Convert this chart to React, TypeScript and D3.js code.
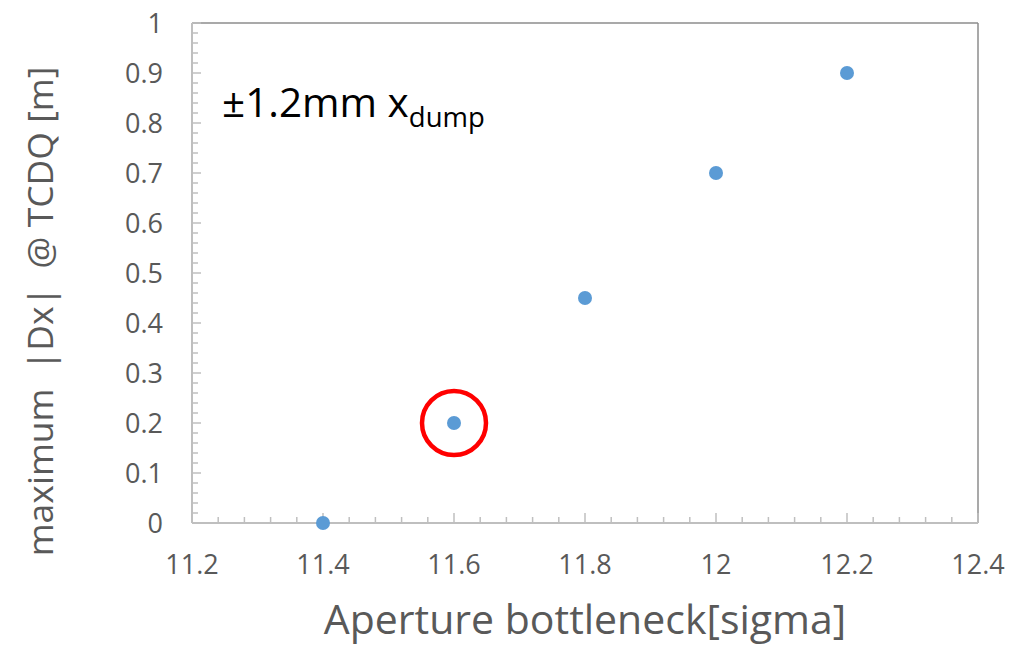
import React from "react";
import * as d3 from "d3";

const apertureSigma = [11.4, 11.6, 11.8, 12.0, 12.2];
const maxDx = [0, 0.2, 0.45, 0.7, 0.9];
const xTicks = [11.2, 11.4, 11.6, 11.8, 12, 12.2, 12.4];
const yTicks = [0, 0.1, 0.2, 0.3, 0.4, 0.5, 0.6, 0.7, 0.8, 0.9, 1];
const highlighted = [11.6];

const W = 1010, H = 646;
const M = { left: 192, right: 978, top: 23, bottom: 523 };
const FONT = "'Open Sans', sans-serif";

export default function App() {
  const x = d3.scaleLinear().domain([11.2, 12.4]).range([M.left, M.right]);
  const y = d3.scaleLinear().domain([0, 1]).range([M.bottom, M.top]);
  const xMinor = d3.range(0, 31).map((i) => 11.2 + i * 0.04);
  const yMinor = d3.range(0, 51).map((i) => i * 0.02);
  const axisColor = "#bfbfbf";
  const labelColor = "#595959";
  return (
    <svg width={W} height={H} style={{ position: "absolute", left: 0, top: 0 }}>
      <rect x={0} y={0} width={W} height={H} fill="#fff" />
      <line x1={M.left} x2={M.right} y1={M.top} y2={M.top} stroke="#8c8c8c" strokeWidth={1.5} />
      <line x1={M.right} x2={M.right} y1={M.top} y2={M.bottom} stroke="#8c8c8c" strokeWidth={1.5} />
      {yMinor.map((v, i) => (
        <line key={"ym" + i} x1={M.left} x2={M.left + (i % 5 === 0 ? 9 : 6)} y1={y(v)} y2={y(v)} stroke={axisColor} strokeWidth={1.5} />
      ))}
      {xMinor.map((v, i) => (
        <line key={"xm" + i} x1={x(v)} x2={x(v)} y1={M.bottom} y2={M.bottom - (i % 5 === 0 ? 10 : 6)} stroke={axisColor} strokeWidth={1.5} />
      ))}
      <line x1={M.left} x2={M.left} y1={M.top} y2={M.bottom} stroke={axisColor} strokeWidth={2} />
      <line x1={M.left} x2={M.right} y1={M.bottom} y2={M.bottom} stroke={axisColor} strokeWidth={2} />
      {yTicks.map((v) => (
        <text key={"yt" + v} x={163} y={y(v)} dy="0.36em" textAnchor="end" fontFamily={FONT} fontSize={27} fill={labelColor}>
          {String(v)}
        </text>
      ))}
      {xTicks.map((v) => (
        <text key={"xt" + v} x={x(v)} y={574} textAnchor="middle" fontFamily={FONT} fontSize={27} fill={labelColor}>
          {String(v)}
        </text>
      ))}
      <text x={585} y={634} textAnchor="middle" fontFamily={FONT} fontSize={41} fill={labelColor}>
        Aperture bottleneck[sigma]
      </text>
      <text transform={`translate(53, ${(68 + 555) / 2}) rotate(-90)`} textAnchor="middle" fontFamily={FONT} fontSize={35.5} fill={labelColor} style={{ whiteSpace: "pre" }}>
        {"maximum  |Dx|  @ TCDQ [m]"}
      </text>
      <text x={222} y={117} fontFamily={FONT} fontSize={40.5} fill="#000">
        ±1.2mm x
        <tspan fontSize={27.5} dy={10}>dump</tspan>
      </text>
      {apertureSigma.map((s, i) => (
        <circle key={"p" + i} cx={x(s)} cy={y(maxDx[i])} r={7} fill="#5b9bd5" />
      ))}
      {highlighted.map((s) => {
        const i = apertureSigma.indexOf(s);
        return <circle key={"h" + s} cx={x(s)} cy={y(maxDx[i])} r={32} fill="none" stroke="#ff0000" strokeWidth={4.5} />;
      })}
    </svg>
  );
}
